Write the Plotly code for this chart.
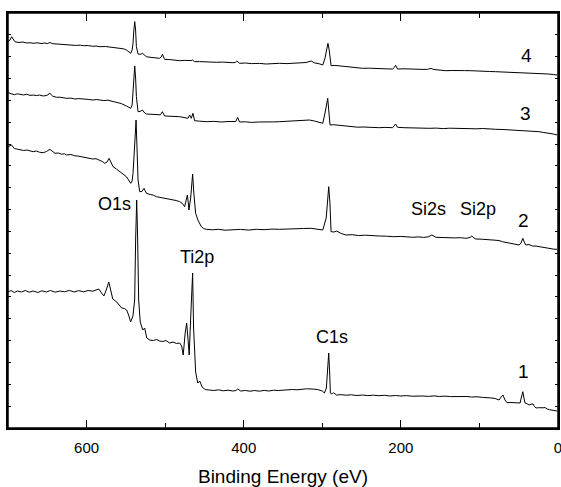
import plotly.graph_objects as go

# Binding energy (eV), intensity (a.u.) pairs
spec1 = [(700,136),(696,137.5),(692,135.5),(688,137),(683,136),(678,137.5),(673,135.8),(668,137),(662,135.5),(657,137.2),
 (651,136),(646,137.5),(640,135.8),(634,137),(628,136.2),(622,137.6),(616,136),(610,137.4),(604,136.2),(598,137.5),
 (592,136.8),(587,138),(584.4,139),(581,135),(578,132),(575,138),(571.7,146),(569,137),(566.7,129),(564,127.5),
 (561.6,126),(558.5,123),(555.3,120),(552,119.5),(549,118),(546.5,113),(543.9,106),(541,112),(538.8,128),(537.5,190),
 (536.2,228),(535,190),(533.7,128),(531.7,106),(530,101),(528.5,98),(526,100),(523.4,90),(519.6,88),(515,87.5),
 (511,88.5),(507,87),(503,86.5),(499,87.5),(494.2,85),(490,86),(485.5,84.5),(481.5,85),(479,82),(477,73),
 (474.5,95),(472.6,105),(471,90),(469.4,73),(467.5,110),(466,150),(465,155),(463.8,100),(462.5,68),(461.2,56),
 (458.5,45),(456,47),(453,41),(449,38.5),(444,38),(438,37.5),(432,38.2),(426,37.2),(420,37.8),(414,37),
 (410,37.5),(407.5,39),(404,37),(398,37.5),(392,36.8),(386,37.5),(380,36.8),(374,37.6),(368,37),(362,37.8),
 (356,37.5),(350,38),(344,37.8),(338,38.5),(332,38.2),(326,39),(320,39.2),(313,39),(306,38.5),(300,37),
 (297.3,35),(294.8,40),(293,60),(291.8,75),(290.6,55),(289.7,35),(287.5,34),(285.8,35.3),(282,33),(276,33.3),
 (270,32.8),(263,33.2),(256,32.5),(249,33),(242,32.4),(235,32.8),(228,32.3),(221,32.7),(214,32),(207,32.5),
 (200,32),(193,32.4),(186,31.8),(179,32.2),(172,32),(165,31.6),(158,32.1),(151,31.5),(144,31.9),(137,31.4),
 (130,31.6),(123,31.2),(116,31.5),(110,31),(103,31.2),(96,30.6),(90,30.5),(84,30),(80,29.5),(75,28),
 (72.5,31),(70,33),(67.5,28),(64.8,25.3),(60,25.5),(55,25),(51,25.3),(48.3,25),(46.5,31),(44.8,36.3),
 (43.3,30),(42,25),(39,24),(36.8,23),(34,23.8),(31.8,24),(30,21.5),(28,20),(25,20.3),(22,20),
 (19,20.2),(16.5,20.5),(14,19),(11,18.3),(9,18),(5,17.5),(1,17)]

spec2 = [(700,281.3),(695.4,283),(692,279.5),(688,279),(684.8,278),(680,277.5),(676,278),(672,276.8),(668,276.3),(664,277),
 (660,275.8),(655.2,275.3),(651,276.5),(646.7,278.7),(643,276),(640.3,274.7),(636,275),(632,273.8),(628,274.2),(625.5,273),
 (620,273.5),(615,272.2),(610,271.8),(604.4,270.7),(598,270.2),(592,269),(588,269.3),(583.2,268),(580,266.5),(576.8,264.7),
 (574,266),(571.3,269.7),(568.5,264),(566.3,261.3),(562,259),(557.8,256.3),(553,254),(549.3,251.3),(546.5,248),(543.8,244.7),
 (542,247),(540.9,254.7),(539,280),(537,308),(535.8,280),(534.5,248),(532.3,236.3),(529.5,236.5),(526.9,239.7),(523.8,234.7),
 (519,233.5),(515,232.8),(511.1,231.3),(505,230.5),(498.4,229),(492,228.2),(486,227.5),(481.5,226.3),(478,224.5),(475.2,221.3),
 (473.2,229),(471.7,233),(470.5,225),(469.7,218),(467.5,230),(466,248),(465,254),(463.5,235),(461.2,214.7),(458.3,208),
 (454,201.3),(451,199.5),(447.6,198.7),(440,198.2),(432,198.7),(424,197.8),(414,198),(404,198.6),(394,197.9),(384,198.7),
 (374,198.3),(364,198.9),(354.5,198.7),(344,199.2),(334,199),(324,199.5),(314.2,199.7),(306,199),(299.4,198),(295,210),
 (293.3,230),(291.8,241.3),(290.3,225),(288.8,196.3),(285,196),(281.6,197),(276,194.5),(269.7,193),(262,193.3),(254,192.5),
 (245,192.8),(236,192.2),(227.4,192),(218,191.8),(209,191.3),(200,191.6),(192,190.9),(185.1,190.7),(178,191.1),(171,190.6),
 (165,191.2),(160.5,193),(155.4,190.7),(148,190.4),(140,190.8),(132,190.1),(124,190.3),(117.3,189.7),(112,190.5),(109.6,192),
 (107,190),(104.5,189),(97,188.8),(90,188.3),(84,188.6),(79.2,188),(75,187.5),(70.7,186.3),(66,185.5),(60,185),
 (54,184),(49.5,183),(47,185),(44.8,189.7),(43,186),(41,183),(37,183.5),(32.6,182),(28,181.9),(24.1,181.3),
 (20,181),(15.6,179.7),(10,179.5),(5,178.8),(0.9,178.7)]

spec3 = [(700,335.3),(696,334.5),(692,333.3),(688,334.2),(684.8,333.7),(680,333),(676,333.8),(672,332.6),(668,333),(664,332.4),
 (660,333),(655.2,332),(650.5,332.6),(646.7,334.7),(643,331.8),(638.2,330.7),(634,330.8),(630,330),(625.5,329.7),(620,329.9),
 (615,329),(610,329.4),(604.4,328.7),(598,328.6),(592,328),(587,328.5),(583.2,328),(578,327.4),(573,327.8),(568,326.8),
 (562,326.3),(556,324.5),(549.3,322),(546,320.5),(543.8,319.7),(542,323),(540.9,334.7),(539.8,350),(538.7,362),(537.6,350),
 (536.6,331.3),(534.5,316.3),(532,316.5),(528.9,318),(526,315),(523.8,314),(518,313.5),(511.1,313),(506,313.2),(503.5,316.3),
 (500.6,312),(495,311.8),(488,311.6),(481.5,311.3),(476,310.5),(470.9,309.7),(468.8,313),(466.7,309.7),(464.6,314.7),(462.5,307.3),
 (456,306.8),(447.6,306.3),(438,306.6),(428,306),(420,306.5),(413.8,306.3),(410,306.5),(407.8,310.7),(405.3,306),(398,306.2),
 (390,305.6),(381,306),(371.4,305.7),(362,306.1),(354.5,306.3),(344,306.8),(334,307.2),(324,307.5),(316.4,308),(310,307),
 (303,305.5),(299.4,304.7),(296.5,315),(294.5,325),(293.1,329.7),(291.8,318),(290.1,303),(286,303.3),(282.4,303),(276.1,302),
 (269.7,301.3),(262,301.2),(255,300.8),(248,301),(240,300.6),(234,300.8),(227.4,300.3),(220,300.6),(214,300.1),(210.5,300.3),
 (206.7,304),(204.2,300.7),(196,300.3),(188,300),(180,300.2),(172,299.8),(163.9,299.7),(155,299.9),(146,299.4),(138,299.8),
 (130,299.5),(121.6,299.7),(112,299.4),(104,299.2),(96,299.5),(88,298.9),(79.2,298.7),(70,298.5),(64,298.2),(58.1,298),
 (50,297.5),(44,297.8),(38,297),(31,296.8),(24.1,296.3),(18,295.5),(12,295),(6,294),(0.9,293)]

spec4 = [(700,386.3),(697.5,388),(695.4,391.3),(693,388.5),(691.2,386.3),(686,385.5),(681,386),(676,385),(672,385.3),(668,384.7),
 (663,385.2),(658,384.5),(653,385),(650,384.4),(646.7,385.5),(643,384.3),(638,384),(632,383.8),(625.5,383),(620,383.3),
 (614,382.6),(608,382.8),(604.4,382.3),(598,382.4),(592,381.7),(588,382),(583.2,381.3),(576,381.5),(570,380.8),(564.1,380.7),
 (558,380),(553,379.2),(549.3,378),(546.5,376.5),(543.8,374.7),(542,378),(540.9,384.7),(539.8,398),(538.7,406.3),(537.6,398),
 (536.6,381.3),(534.5,374),(531.5,373.6),(528.9,374.7),(526,372.5),(523.8,371.3),(518,370.6),(512,370.2),(506.9,369.7),(505,371),
 (503.5,373.7),(502,371),(500.6,368.7),(494,368.4),(488,367.9),(481.5,367.3),(475,367.6),(470,367.2),(467,367.4),(465.4,368),
 (462.5,366.3),(456,366.4),(448,365.9),(441,366.1),(434.9,365.7),(427,365.9),(420,365.4),(413.8,365.3),(410.5,365.6),(408.7,367),
 (405.3,364.7),(398,365),(390,364.4),(380,364.6),(371.4,364),(362,364.6),(354.5,364.7),(345,364.4),(335,365),(326,365.2),
 (320.6,365.5),(314.2,367),(310,365.2),(303,364),(299.4,363),(296.5,370),(294.5,380),(292.8,384.7),(291.2,378),(289.8,366),
 (288.8,362.3),(284,362.6),(280.4,362.3),(276.1,361.3),(268,360.9),(262,360.6),(256,360.2),(248.6,359.7),(240,359.8),(232,359.3),
 (224,359.5),(217,359.1),(210.5,359),(208.3,360.5),(206.7,362.7),(205,360.5),(204.2,359),(196,359.2),(188,358.8),(180,359),
 (172,358.6),(166,358.7),(161.8,359.6),(158,358.5),(150,357.8),(142.7,357.3),(135,357.5),(127,357.1),(119,357.4),(110.9,357.3),
 (103,356.8),(95,357),(87,356.5),(79.2,356.3),(71,356),(63,355.8),(55,356),(47,355.4),(40,355.5),(36.8,355.3),
 (30,354.8),(24,354.9),(18,354.2),(12,354),(6,353.5),(0.9,353)]

spectra = [spec1, spec2, spec3, spec4]

# Labels: (text, binding energy, intensity)
peak_labels = [("O1s", 564.7, 224.5), ("Ti2p", 459.3, 171), ("C1s", 287.8, 91),
               ("Si2s", 164.9, 219.5), ("Si2p", 101.4, 219.5)]
curve_labels = [("1", 44.5, 56.3), ("2", 43.8, 207.2), ("3", 41.7, 314.7), ("4", 39.8, 372.5)]

FONT = "Liberation Sans, Arial, Helvetica, sans-serif"
INK = "#000000"

fig = go.Figure()
for s in spectra:
    fig.add_trace(go.Scatter(x=[p[0] for p in s], y=[p[1] for p in s], mode="lines",
                             line=dict(color=INK, width=1), showlegend=False, hoverinfo="skip"))

for t, x, y in peak_labels:
    fig.add_annotation(x=x, y=y, text=t, showarrow=False, xanchor="center", yanchor="middle",
                       font=dict(family=FONT, size=18, color=INK))
for t, x, y in curve_labels:
    fig.add_annotation(x=x, y=y, text=t, showarrow=False, xanchor="center", yanchor="middle",
                       font=dict(family=FONT, size=19, color=INK))

# plot frame
fig.add_shape(type="rect", xref="paper", yref="paper", x0=0, x1=1, y0=0, y1=1,
              line=dict(color=INK, width=1.5), layer="above")

Y_MAX = 415
fig.update_layout(
    width=561, height=487,
    margin=dict(l=8, r=3, t=13, b=59, autoexpand=False),
    paper_bgcolor="white", plot_bgcolor="white",
    font=dict(family=FONT, color=INK),
    xaxis=dict(range=[700, 0], showgrid=False, zeroline=False, showline=True, linecolor=INK, linewidth=1.5,
               mirror="ticks", ticks="inside", ticklen=8, tickwidth=1.3, tickcolor=INK,
               tickmode="linear", tick0=0, dtick=200, ticklabelstandoff=5,
               tickfont=dict(family=FONT, size=15, color=INK), ticklabeloverflow="allow", automargin=False,
               minor=dict(tick0=0, dtick=100, ticks="inside", ticklen=5, tickwidth=1.3, tickcolor=INK,
                          showgrid=False),
               title=dict(text="Binding Energy (eV)", font=dict(family=FONT, size=19, color=INK), standoff=17)),
    yaxis=dict(range=[0, Y_MAX], showgrid=False, zeroline=False, showline=True, linecolor=INK, linewidth=1.5,
               mirror="ticks", ticks="inside", ticklen=3, tickwidth=1.1, tickcolor=INK, automargin=False,
               tickmode="linear", tick0=0, dtick=Y_MAX / 19, showticklabels=False),
)

fig.write_html("out.html", config={"displayModeBar": False},
               post_script="document.body.style.margin='0';document.body.style.overflow='hidden';")
